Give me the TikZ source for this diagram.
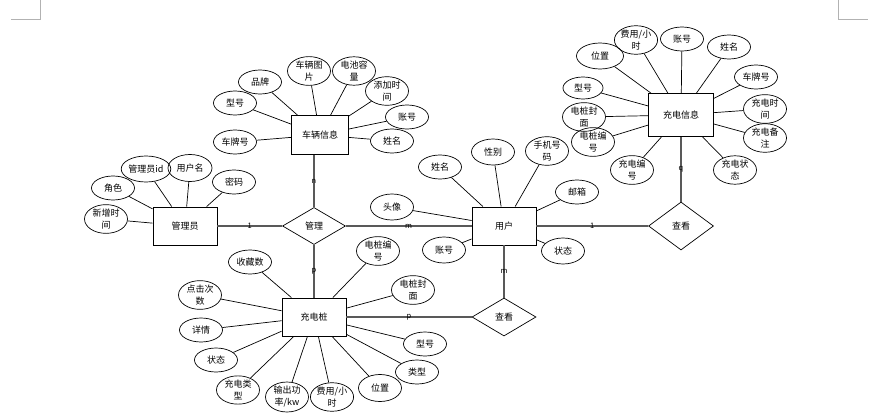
\documentclass[tikz,border=0pt]{standalone}
\usepackage{fontspec}
\setmainfont{Noto Sans CJK SC}
\usetikzlibrary{shapes.geometric}

\begin{document}
\begin{tikzpicture}[x=1pt,y=-1pt,
  entity/.style={draw, line width=0.9pt, minimum width=64pt, minimum height=38pt, inner sep=0pt, font=\fontsize{9}{12}\selectfont},
  attr/.style={draw, ellipse, line width=0.7pt, minimum width=43pt, minimum height=24pt, inner sep=0pt, align=center, font=\fontsize{9}{12}\selectfont},
  relation/.style={draw, diamond, line width=0.7pt, inner sep=0pt, font=\fontsize{9}{12}\selectfont},
  link/.style={line width=1.4pt, draw=black!65},
  attrline/.style={line width=0.7pt},
  card/.style={font=\fontsize{7.5}{8}\selectfont, inner sep=0pt},
  cornermark/.style={line width=0.8pt, draw=black!30}]
\useasboundingbox (0,0) rectangle (894,420);

%Seitenecken
\draw[cornermark] (11,19) to (40,19) to (40,0);
\draw[cornermark] (838,0) to (838,19) to (868,19);

%Entitaeten
\node[entity, minimum width=57pt, minimum height=39pt] (cheliang) at (320,135) {车辆信息};
\node[entity, minimum width=65pt, minimum height=43pt] (chongdianxx) at (681,115) {充电信息};
\node[entity] (guanliyuan) at (185,226) {管理员};
\node[entity] (yonghu) at (504,226) {用户};
\node[entity] (zhuang) at (314,317) {充电桩};

%Beziehungen
\node[relation, minimum width=63pt, minimum height=37pt] (guanli) at (314,226) {管理};
\node[relation, minimum width=65pt, minimum height=48pt] (chakanA) at (681,226) {查看};
\node[relation, minimum width=64pt, minimum height=38pt] (chakanB) at (504,317) {查看};

\draw[link] (guanliyuan) to node[card] {1} (guanli);
\draw[link] (guanli) to node[card] {m} (yonghu);
\draw[link] (guanli.north) to node[card] {n} (guanli.north |- cheliang.south);
\draw[link] (guanli) to node[card] {p} (zhuang);
\draw[link] (yonghu) to node[card] {1} (chakanA);
\draw[link] (chakanA) to node[card] {q} (chongdianxx);
\draw[link] (yonghu) to node[card] {m} (chakanB);
\draw[link] (zhuang) to node[card] {p} (chakanB);

%Attribute Fahrzeug
\node[attr] (c1) at (260,82) {品牌};
\node[attr] (c2) at (235,103) {型号};
\node[attr] (c3) at (309,71) {车辆图\\片};
\node[attr] (c4) at (354,71) {电池容\\量};
\node[attr] (c5) at (387,91) {添加时\\间};
\node[attr] (c6) at (407,117) {账号};
\node[attr] (c7) at (392,141) {姓名};
\node[attr] (c8) at (235,142) {车牌号};
\draw[attrline] (c1) to (cheliang);
\draw[attrline] (c2) to (cheliang);
\draw[attrline] (c3) to (cheliang);
\draw[attrline] (c4) to (cheliang);
\draw[attrline] (c5) to (cheliang);
\draw[attrline] (c6) to (cheliang);
\draw[attrline] (c7) to (cheliang);
\draw[attrline] (c8) to (cheliang);

%Attribute Ladeinformation
\node[attr, minimum height=25pt] (x1) at (636,40) {费用/小\\时};
\node[attr] (x2) at (682,39) {账号};
\node[attr] (x3) at (729,47) {姓名};
\node[attr, minimum width=47pt, minimum height=26pt] (x4) at (600,56) {位置};
\node[attr] (x5) at (756,77) {车牌号};
\node[attr, minimum width=40pt, minimum height=22pt] (x6) at (583,88) {型号};
\node[attr] (x7) at (765,109) {充电时\\间};
\node[attr] (x8) at (584,117) {电桩封\\面};
\node[attr, minimum height=28pt] (x9) at (765,138) {充电备\\注};
\node[attr] (x10) at (593,142) {电桩编\\号};
\node[attr] (x11) at (632,170) {充电编\\号};
\node[attr] (x12) at (735,170) {充电状\\态};
\draw[attrline] (x1) to (chongdianxx);
\draw[attrline] (x2) to (chongdianxx);
\draw[attrline] (x3) to (chongdianxx);
\draw[attrline] (x4) to (chongdianxx);
\draw[attrline] (x5) to (chongdianxx);
\draw[attrline] (x6) to (chongdianxx);
\draw[attrline] (x7) to (chongdianxx);
\draw[attrline] (x8) to (chongdianxx);
\draw[attrline] (x9) to (chongdianxx);
\draw[attrline] (x10) to (chongdianxx);
\draw[attrline] (x11) to (chongdianxx);
\draw[attrline] (x12) to (chongdianxx);

%Attribute Verwalter
\node[attr] (g1) at (113,188) {角色};
\node[attr, minimum width=44pt, minimum height=26pt] (g2) at (146,169) {管理员id};
\node[attr, minimum width=44pt, minimum height=27pt] (g3) at (190,168) {用户名};
\node[attr] (g4) at (234,182) {密码};
\node[attr] (g5) at (106,219) {新增时\\间};
\draw[attrline] (g1) to (guanliyuan);
\draw[attrline] (g2) to (guanliyuan);
\draw[attrline] (g3) to (guanliyuan);
\draw[attrline] (g4) to (guanliyuan);
\draw[attrline] (g5) to (guanliyuan);

%Attribute Benutzer
\node[attr] (y1) at (440,167) {姓名};
\node[attr, minimum height=26pt] (y2) at (493,152) {性别};
\node[attr] (y3) at (547,151) {手机号\\码};
\node[attr] (y4) at (577,192) {邮箱};
\node[attr, minimum height=26pt] (y5) at (392,207) {头像};
\node[attr, minimum height=26pt] (y6) at (444,250) {账号};
\node[attr, minimum height=26pt] (y7) at (563,251) {状态};
\draw[attrline] (y1) to (yonghu);
\draw[attrline] (y2) to (yonghu);
\draw[attrline] (y3) to (yonghu);
\draw[attrline] (y4) to (yonghu);
\draw[attrline] (y5) to (yonghu);
\draw[attrline] (y6) to (yonghu);
\draw[attrline] (y7) to (yonghu);

%Attribute Ladesaeule
\node[attr] (z1) at (250,262) {收藏数};
\node[attr] (z2) at (378,251) {电桩编\\号};
\node[attr] (z3) at (200,295) {点击次\\数};
\node[attr] (z4) at (413,290) {电桩封\\面};
\node[attr] (z5) at (201,330) {详情};
\node[attr] (z6) at (425,344) {型号};
\node[attr] (z7) at (216,360) {状态};
\node[attr] (z8) at (417,372) {类型};
\node[attr] (z9) at (238,390) {充电类\\型};
\node[attr, minimum height=25pt] (z10) at (287,397) {输出功\\率/kw};
\node[attr, minimum height=25pt] (z11) at (332,397) {费用/小\\时};
\node[attr, minimum height=27pt] (z12) at (380,388) {位置};
\draw[attrline] (z1) to (zhuang);
\draw[attrline] (z2) to (zhuang);
\draw[attrline] (z3) to (zhuang);
\draw[attrline] (z4) to (zhuang);
\draw[attrline] (z5) to (zhuang);
\draw[attrline] (z6) to (zhuang);
\draw[attrline] (z7) to (zhuang);
\draw[attrline] (z8) to (zhuang);
\draw[attrline] (z9) to (zhuang);
\draw[attrline] (z10) to (zhuang);
\draw[attrline] (z11) to (zhuang);
\draw[attrline] (z12) to (zhuang);

\end{tikzpicture}
\end{document}
